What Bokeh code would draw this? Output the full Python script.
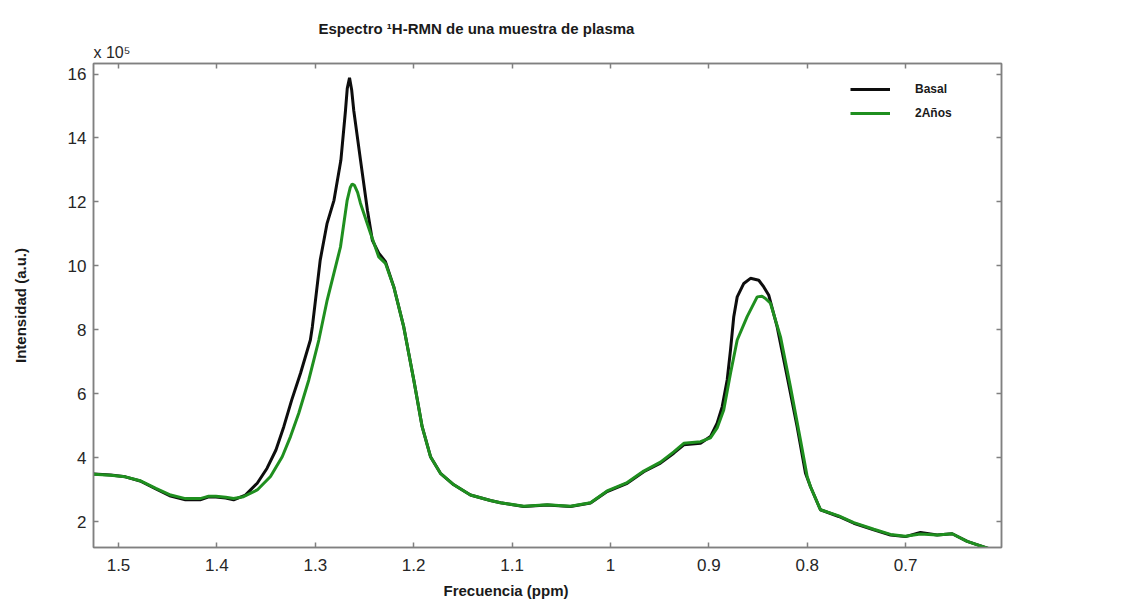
from bokeh.plotting import figure
from bokeh.models import Range1d, LinearAxis, FixedTicker, Legend, LegendItem, Title
from bokeh.embed import file_html
from bokeh.resources import INLINE

# ---------------- data (intensity in units of 10^5) ----------------
ppm_basal = [1.525, 1.508, 1.493, 1.478, 1.462, 1.447, 1.432, 1.417, 1.409, 1.401,
             1.391, 1.383, 1.371, 1.359, 1.349, 1.340, 1.332, 1.324, 1.315, 1.305,
             1.303, 1.295, 1.288, 1.281, 1.274, 1.2693, 1.2675, 1.2652, 1.2630, 1.2609,
             1.254, 1.247, 1.242, 1.2355, 1.2287, 1.2202, 1.2101, 1.1999, 1.1914, 1.1829,
             1.1728, 1.1592, 1.1423, 1.1220, 1.1118, 1.0881, 1.0643, 1.0407, 1.0203, 1.0034,
             0.9830, 0.9662, 0.9492, 0.9357, 0.9255, 0.9085, 0.8984, 0.8916, 0.8865, 0.8814,
             0.8780, 0.8747, 0.8712, 0.8645, 0.8577, 0.8493, 0.8442, 0.8391, 0.8306, 0.8204,
             0.8103, 0.8018, 0.7967, 0.7866, 0.7680, 0.7527, 0.7324, 0.7154, 0.7002, 0.6850,
             0.6680, 0.6527, 0.6375, 0.6169, 0.6027]
int_basal = [3.49, 3.46, 3.40, 3.27, 3.02, 2.80, 2.68, 2.68, 2.77, 2.77,
             2.74, 2.68, 2.83, 3.20, 3.67, 4.24, 4.97, 5.80, 6.64, 7.68,
             8.09, 10.18, 11.33, 12.05, 13.30, 14.86, 15.55, 15.88, 15.50, 14.86,
             13.30, 11.74, 10.80, 10.40, 10.13, 9.34, 8.09, 6.43, 4.97, 4.03,
             3.51, 3.15, 2.83, 2.66, 2.59, 2.47, 2.52, 2.47, 2.58, 2.94,
             3.20, 3.56, 3.83, 4.14, 4.40, 4.45, 4.66, 5.08, 5.59, 6.43,
             7.37, 8.41, 9.03, 9.45, 9.61, 9.55, 9.34, 9.08, 8.09, 6.53,
             4.97, 3.51, 3.09, 2.37, 2.16, 1.95, 1.74, 1.58, 1.53, 1.66,
             1.58, 1.62, 1.38, 1.17, 1.02]

ppm_2anos = [1.525, 1.508, 1.493, 1.478, 1.462, 1.447, 1.432, 1.417, 1.409, 1.401,
             1.391, 1.383, 1.373, 1.359, 1.3455, 1.3336, 1.3252, 1.3168, 1.3066, 1.2964,
             1.2879, 1.2744, 1.2676, 1.2645, 1.2625, 1.2602, 1.2570, 1.2541, 1.2439, 1.2355,
             1.2287, 1.2202, 1.2101, 1.1999, 1.1914, 1.1829, 1.1728, 1.1592, 1.1423, 1.1220,
             1.1118, 1.0881, 1.0643, 1.0407, 1.0203, 1.0034, 0.9830, 0.9662, 0.9492, 0.9357,
             0.9255, 0.9085, 0.8984, 0.8916, 0.8849, 0.8780, 0.8712, 0.8611, 0.8509, 0.8460,
             0.8425, 0.8374, 0.8272, 0.8171, 0.8069, 0.8001, 0.7967, 0.7866, 0.7680, 0.7527,
             0.7324, 0.7154, 0.7002, 0.6850, 0.6680, 0.6527, 0.6375, 0.6169, 0.6027]
int_2anos = [3.48, 3.45, 3.40, 3.28, 3.04, 2.83, 2.72, 2.72, 2.79, 2.79,
             2.76, 2.72, 2.78, 2.99, 3.41, 4.03, 4.66, 5.39, 6.43, 7.68,
             8.93, 10.59, 12.05, 12.45, 12.56, 12.52, 12.30, 11.96, 11.02, 10.28,
             10.08, 9.34, 8.09, 6.43, 4.97, 4.03, 3.51, 3.15, 2.83, 2.66,
             2.59, 2.48, 2.53, 2.48, 2.59, 2.96, 3.22, 3.58, 3.86, 4.18,
             4.45, 4.50, 4.62, 4.93, 5.49, 6.64, 7.68, 8.41, 9.03, 9.05,
             8.98, 8.83, 7.78, 6.22, 4.55, 3.41, 3.09, 2.37, 2.18, 1.97,
             1.76, 1.60, 1.54, 1.61, 1.58, 1.62, 1.38, 1.17, 1.02]

x_ticks = [1.5, 1.4, 1.3, 1.2, 1.1, 1.0, 0.9, 0.8, 0.7]
x_tick_labels = ["1.5", "1.4", "1.3", "1.2", "1.1", "1", "0.9", "0.8", "0.7"]
y_ticks = [2, 4, 6, 8, 10, 12, 14, 16]
y_tick_labels = ["2", "4", "6", "8", "10", "12", "14", "16"]

series_names = ["Basal", "2Años"]
series_colors = ["#0d0d0d", "#1f8f1f"]

FONT = "Liberation Sans"
GRAY = "#808080"

p = figure(width=1131, height=607,
           x_range=Range1d(1.5254, 0.6026), y_range=Range1d(1.19, 16.33),
           output_backend="svg", toolbar_location=None,
           min_border_left=93, min_border_right=130, min_border_top=63, min_border_bottom=60)

p.xgrid.visible = False
p.ygrid.visible = False
p.outline_line_color = GRAY
p.outline_line_width = 1.5
p.background_fill_color = "white"
p.border_fill_color = "white"

# curves
rb = p.line(ppm_basal, int_basal, line_color=series_colors[0], line_width=3)
rg = p.line(ppm_2anos, int_2anos, line_color=series_colors[1], line_width=3)

# axes styling
def style_axis(ax, show_labels):
    ax.major_tick_in = 5
    ax.major_tick_out = 0
    ax.minor_tick_line_color = None
    ax.major_tick_line_color = GRAY
    ax.major_tick_line_width = 1.5
    ax.axis_line_color = GRAY
    ax.axis_line_width = 1.5
    if show_labels:
        ax.major_label_text_font = FONT
        ax.major_label_text_font_size = "17px"
        ax.major_label_text_color = "#262626"
    else:
        ax.major_label_text_font_size = "0px"
        ax.major_label_text_alpha = 0
        ax.major_label_standoff = 0

p.xaxis.ticker = FixedTicker(ticks=x_ticks)
p.xaxis.major_label_overrides = {t: s for t, s in zip(x_ticks, x_tick_labels)}
p.yaxis.ticker = FixedTicker(ticks=y_ticks)
p.yaxis.major_label_overrides = {t: s for t, s in zip(y_ticks, y_tick_labels)}
style_axis(p.xaxis[0], True)
style_axis(p.yaxis[0], True)
p.xaxis.major_label_standoff = 11
p.yaxis.major_label_standoff = 7

p.yaxis.axis_label = "Intensidad (a.u.)"
p.yaxis.axis_label_text_font = FONT
p.yaxis.axis_label_text_font_style = "bold"
p.yaxis.axis_label_text_font_size = "15px"
p.yaxis.axis_label_text_color = "#1a1a1a"
p.yaxis.axis_label_standoff = 36

top_ax = LinearAxis(ticker=FixedTicker(ticks=x_ticks))
style_axis(top_ax, False)
p.add_layout(top_ax, "above")
right_ax = LinearAxis(ticker=FixedTicker(ticks=y_ticks))
style_axis(right_ax, False)
p.add_layout(right_ax, "right")

# exponent note above the y axis
p.add_layout(Title(text="x 10⁵", align="left", offset=0, standoff=5,
                   text_font=FONT, text_font_style="normal", text_font_size="16px",
                   text_color="#262626"), "above")

# main title
p.title.text = "Espectro ¹H-RMN de una muestra de plasma"
p.title.align = "left"
p.title.offset = 225
p.title.standoff = 6
p.title.text_font = FONT
p.title.text_font_style = "bold"
p.title.text_font_size = "15px"
p.title.text_color = "#1a1a1a"

# x axis label as a bottom title (left-aligned at its reference position)
p.add_layout(Title(text="Frecuencia (ppm)", align="left", offset=350, standoff=12,
                   text_font=FONT, text_font_style="bold", text_font_size="15px",
                   text_color="#1a1a1a"), "below")

# legend
legend = Legend(items=[LegendItem(label=series_names[0], renderers=[rb]),
                       LegendItem(label=series_names[1], renderers=[rg])],
                location=(757, 424), orientation="vertical",
                border_line_alpha=0, background_fill_alpha=0,
                padding=0, margin=0, spacing=4,
                glyph_width=40, glyph_height=20, label_standoff=25,
                label_text_font=FONT, label_text_font_style="bold",
                label_text_font_size="12px", label_text_color="#1a1a1a")
p.add_layout(legend)

open("out.html", "w").write(file_html(p, INLINE))
